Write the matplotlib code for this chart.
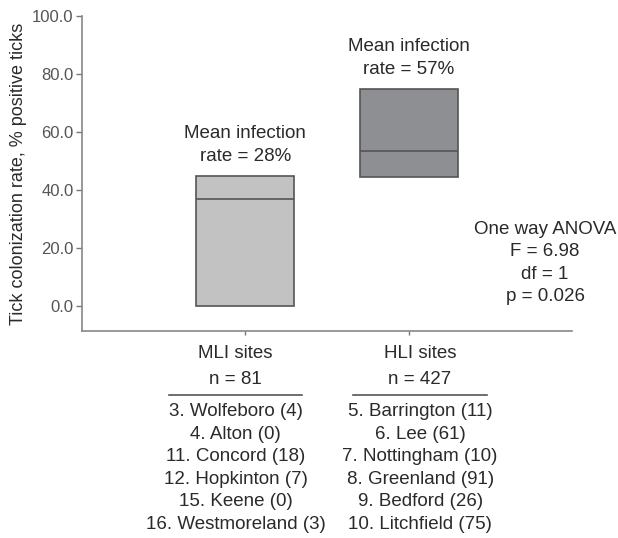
import matplotlib.pyplot as plt
import matplotlib.transforms as mtransforms

plt.rcParams['font.family'] = ['Liberation Sans', 'DejaVu Sans']

# box data (% positive ticks)
groups = ["MLI sites", "HLI sites"]
n_ticks = [81, 427]
q_low = [0.0, 44.5]
q_med = [37.0, 53.5]
q_high = [45.0, 75.0]
mean_rate = [28, 57]
box_colors = ["#c2c2c2", "#8e8f92"]

mli_sites = ["3. Wolfeboro (4)", "4. Alton (0)", "11. Concord (18)",
             "12. Hopkinton (7)", "15. Keene (0)", "16. Westmoreland (3)"]
hli_sites = ["5. Barrington (11)", "6. Lee (61)", "7. Nottingham (10)",
             "8. Greenland (91)", "9. Bedford (26)", "10. Litchfield (75)"]

anova_text = "One way ANOVA\nF = 6.98\ndf = 1\np = 0.026"

fig = plt.figure(figsize=(6.18, 5.38), dpi=100)
ax = fig.add_axes([82/618, 1-331/538, 490/618, 315/538])

pos = [1, 2]
txt_col = "#2a2a2a"
for i in range(2):
    ax.bar(pos[i], q_high[i]-q_low[i], bottom=q_low[i], width=0.6,
           color=box_colors[i], edgecolor="#555555", linewidth=1.2, zorder=2)
    ax.hlines(q_med[i], pos[i]-0.3, pos[i]+0.3, color="#555555", linewidth=1.2, zorder=3)
    ax.text(pos[i], q_high[i]+3.6, "Mean infection\nrate = %d%%" % mean_rate[i],
            ha="center", va="bottom", fontsize=13.5, color=txt_col, linespacing=1.45)

ax.text(545/618, 1-263/538, anova_text, transform=fig.transFigure, ha="center", va="center",
        fontsize=13.5, color=txt_col, linespacing=1.43)

ax.set_xlim(0, 3)
ax.set_ylim(-8.6, 100)
ax.set_yticks([0, 20, 40, 60, 80, 100])
ax.set_yticklabels(["%.1f" % v for v in [0, 20, 40, 60, 80, 100]], fontsize=12, color="#555555")
ax.set_xticks(pos)
ax.set_xticklabels([])
ax.tick_params(axis="y", length=4, color="#777777", width=1, pad=2)
ax.tick_params(axis="x", length=3, color="#777777", width=1)
ax.spines["top"].set_visible(False)
ax.spines["right"].set_visible(False)
ax.spines["left"].set_color("#888888")
ax.spines["bottom"].set_color("#888888")
ax.spines["left"].set_linewidth(1.2)
ax.spines["bottom"].set_linewidth(1.2)
ax.set_ylabel("Tick colonization rate, % positive ticks", fontsize=13, color=txt_col, labelpad=4)

# labels under the axis
trans = mtransforms.blended_transform_factory(ax.transData, fig.transFigure)
centers = [0.94, 2.07]
site_lists = [mli_sites, hli_sites]
for i in range(2):
    c = centers[i]
    ax.text(c, 1-354/538, groups[i], transform=trans, ha="center", va="center",
            fontsize=13.5, color=txt_col)
    ax.text(c, 1-380/538, "n = %d" % n_ticks[i], transform=trans, ha="center", va="center",
            fontsize=13.5, color=txt_col)
    ax.plot([c-0.41, c+0.41], [1-395/538, 1-395/538], transform=trans, color="#555555",
            linewidth=1.2, clip_on=False)
    ax.text(c, 1-403.5/538, "\n".join(site_lists[i]), transform=trans, ha="center", va="top",
            fontsize=13.5, color=txt_col, linespacing=1.42)

plt.savefig("out.png", dpi=100)
